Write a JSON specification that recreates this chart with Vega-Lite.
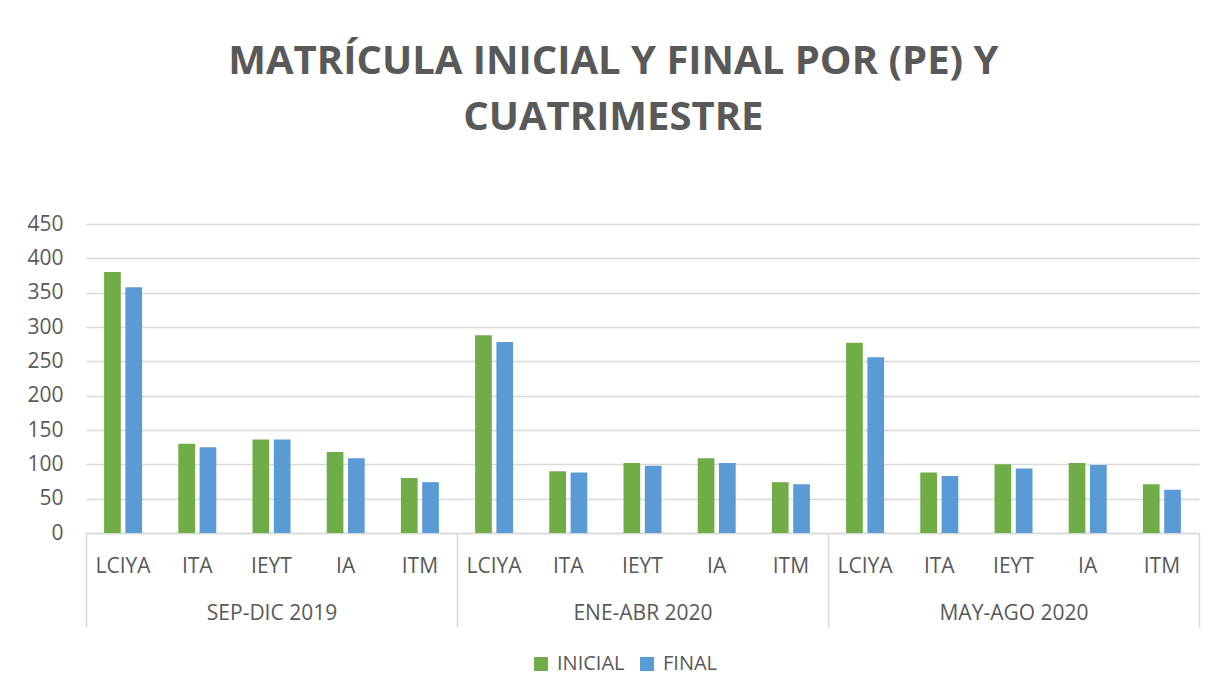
{
  "$schema": "https://vega.github.io/schema/vega-lite/v6.json",
  "autosize": {"type": "none"},
  "width": 1113,
  "height": 309,
  "padding": {"left": 86, "top": 224, "right": 23, "bottom": 163},
  "background": "white",
  "config": {
    "font": "Open Sans",
    "view": {"stroke": null},
    "axis": {"labelFont": "Open Sans", "labelColor": "#595959"}
  },
  "title": {
    "text": ["MATRÍCULA INICIAL Y FINAL POR (PE) Y", "CUATRIMESTRE"],
    "font": "Open Sans",
    "fontSize": 40,
    "fontWeight": "bold",
    "color": "#595959",
    "anchor": "middle",
    "frame": "bounds",
    "baseline": "bottom",
    "lineHeight": 56,
    "offset": 35
  },
  "data": {
    "values": [
      {"grupo": "SEP-DIC 2019", "programa": "LCIYA", "serie": "INICIAL", "valor": 380},
      {"grupo": "SEP-DIC 2019", "programa": "LCIYA", "serie": "FINAL", "valor": 358},
      {"grupo": "SEP-DIC 2019", "programa": "ITA", "serie": "INICIAL", "valor": 130},
      {"grupo": "SEP-DIC 2019", "programa": "ITA", "serie": "FINAL", "valor": 125},
      {"grupo": "SEP-DIC 2019", "programa": "IEYT", "serie": "INICIAL", "valor": 136},
      {"grupo": "SEP-DIC 2019", "programa": "IEYT", "serie": "FINAL", "valor": 136},
      {"grupo": "SEP-DIC 2019", "programa": "IA", "serie": "INICIAL", "valor": 118},
      {"grupo": "SEP-DIC 2019", "programa": "IA", "serie": "FINAL", "valor": 109},
      {"grupo": "SEP-DIC 2019", "programa": "ITM", "serie": "INICIAL", "valor": 80},
      {"grupo": "SEP-DIC 2019", "programa": "ITM", "serie": "FINAL", "valor": 74},
      {"grupo": "ENE-ABR 2020", "programa": "LCIYA", "serie": "INICIAL", "valor": 288},
      {"grupo": "ENE-ABR 2020", "programa": "LCIYA", "serie": "FINAL", "valor": 278},
      {"grupo": "ENE-ABR 2020", "programa": "ITA", "serie": "INICIAL", "valor": 90},
      {"grupo": "ENE-ABR 2020", "programa": "ITA", "serie": "FINAL", "valor": 88},
      {"grupo": "ENE-ABR 2020", "programa": "IEYT", "serie": "INICIAL", "valor": 102},
      {"grupo": "ENE-ABR 2020", "programa": "IEYT", "serie": "FINAL", "valor": 98},
      {"grupo": "ENE-ABR 2020", "programa": "IA", "serie": "INICIAL", "valor": 109},
      {"grupo": "ENE-ABR 2020", "programa": "IA", "serie": "FINAL", "valor": 102},
      {"grupo": "ENE-ABR 2020", "programa": "ITM", "serie": "INICIAL", "valor": 74},
      {"grupo": "ENE-ABR 2020", "programa": "ITM", "serie": "FINAL", "valor": 71},
      {"grupo": "MAY-AGO 2020", "programa": "LCIYA", "serie": "INICIAL", "valor": 277},
      {"grupo": "MAY-AGO 2020", "programa": "LCIYA", "serie": "FINAL", "valor": 256},
      {"grupo": "MAY-AGO 2020", "programa": "ITA", "serie": "INICIAL", "valor": 88},
      {"grupo": "MAY-AGO 2020", "programa": "ITA", "serie": "FINAL", "valor": 83},
      {"grupo": "MAY-AGO 2020", "programa": "IEYT", "serie": "INICIAL", "valor": 100},
      {"grupo": "MAY-AGO 2020", "programa": "IEYT", "serie": "FINAL", "valor": 94},
      {"grupo": "MAY-AGO 2020", "programa": "IA", "serie": "INICIAL", "valor": 102},
      {"grupo": "MAY-AGO 2020", "programa": "IA", "serie": "FINAL", "valor": 99},
      {"grupo": "MAY-AGO 2020", "programa": "ITM", "serie": "INICIAL", "valor": 71},
      {"grupo": "MAY-AGO 2020", "programa": "ITM", "serie": "FINAL", "valor": 63}
    ]
  },
  "transform": [{"calculate": "datum.grupo + '|' + datum.programa", "as": "clave"}],
  "layer": [
    {
      "mark": {"type": "bar"},
      "encoding": {
        "x": {
          "field": "clave",
          "type": "nominal",
          "sort": null,
          "scale": {"paddingInner": 0, "paddingOuter": 0},
          "axis": {
            "orient": "bottom",
            "title": null,
            "labelExpr": "split(datum.label, '|')[1]",
            "labelAngle": 0,
            "labelFontSize": 21,
            "labelPadding": 22,
            "ticks": false,
            "domain": true,
            "domainColor": "#d9d9d9",
            "domainWidth": 1.5,
            "grid": false
          }
        },
        "xOffset": {
          "field": "serie",
          "type": "nominal",
          "sort": ["INICIAL", "FINAL"],
          "scale": {"paddingInner": 0.216, "paddingOuter": 0.85}
        },
        "y": {
          "field": "valor",
          "type": "quantitative",
          "scale": {"domain": [0, 450], "nice": false},
          "axis": {
            "title": null,
            "values": [0, 50, 100, 150, 200, 250, 300, 350, 400, 450],
            "labelFontSize": 21,
            "labelPadding": 23,
            "ticks": false,
            "domain": false,
            "gridColor": "#d9d9d9",
            "gridWidth": 1.5
          }
        },
        "color": {
          "field": "serie",
          "type": "nominal",
          "sort": ["INICIAL", "FINAL"],
          "scale": {"domain": ["INICIAL", "FINAL"], "range": ["#70ad47", "#5b9bd5"]},
          "legend": {
            "title": null,
            "orient": "none",
            "direction": "horizontal",
            "legendX": 445,
            "legendY": 430,
            "symbolType": "square",
            "symbolSize": 196,
            "symbolStrokeWidth": 0,
            "labelFontSize": 20,
            "labelColor": "#595959",
            "labelOffset": 6,
            "columnPadding": 12
          }
        }
      }
    },
    {
      "mark": {"type": "rule", "opacity": 0},
      "encoding": {
        "x": {
          "field": "grupo",
          "type": "nominal",
          "sort": null,
          "scale": {"paddingInner": 0, "paddingOuter": 0},
          "axis": {
            "orient": "bottom",
            "title": null,
            "labelAngle": 0,
            "labelFontSize": 21,
            "tickBand": "extent",
            "ticks": true,
            "tickSize": 94,
            "tickColor": "#d9d9d9",
            "tickWidth": 1.5,
            "labelPadding": -25,
            "domain": false,
            "grid": false
          }
        }
      }
    }
  ],
  "resolve": {"scale": {"x": "independent"}, "axis": {"x": "independent"}}
}
